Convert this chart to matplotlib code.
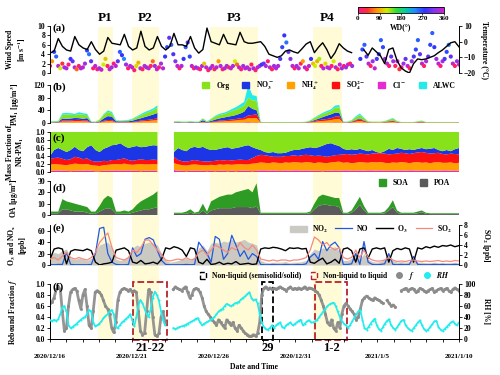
import numpy as np
import matplotlib.pyplot as plt
import matplotlib.transforms as mtrans
from matplotlib.colors import LinearSegmentedColormap
from matplotlib.patches import Patch, Rectangle
from matplotlib.lines import Line2D
from matplotlib.ticker import MultipleLocator, FormatStrFormatter

plt.rcParams['font.family'] = 'Liberation Serif'
plt.rcParams['font.weight'] = 'bold'
plt.rcParams['axes.labelweight'] = 'bold'
plt.rcParams['mathtext.fontset'] = 'stix'
plt.rcParams['mathtext.default'] = 'bf'
plt.rcParams['font.size'] = 5.5
plt.rcParams['axes.linewidth'] = 0.7

# ---- data (6 h steps, day 0 = 2020/12/16) ----
temp = [-7.3, -6, 2, -3, -5.3, -6, 3.3, -2, -4, -5, 0, -5, -8, -6, 2.7, -1,
        -1.5, -2, 4.7, -3, -5.3, -4, 6.7, -3, -5.3, -4, 3.3, -3, -5.3, -3, 5.3, -2,
        -2, -3, 3.3, -4, -7.3, -5, 8.7, 0, -1, -2, 4.7, -1, -1.5, -2, 6, 0,
        -1, -1, -0.5, 0, -3, -8, -9, -10, -9, -6, -5.3, -6.5, -7.3, -4.5, -1.5, 0,
        -7, -3.5, -0.7, -5, -10.7, -7, -1.3, -4, -6, -7, np.nan, np.nan, -5.3, -8.7, -4, -6.5,
        -9, -14, -5, -4, -12, -16.7, -18.7, -20, -14, -11, -11.5, -11, -10, -9, -7, -5.3,
        -3, -0.7, 0, -3.3]

# wind speed / direction (3 h steps)
ws = [1.5, 2.5, 4.5, 3.5, 1.5, 1.0, 2.0, 1.2, 1.0, 1.8, 3.0, 2.5, 1.2, 0.8, 1.5, 1.0,
      1.2, 2.0, 4.8, 4.0, 2.5, 1.0, 1.5, 0.8, 1.0, 0.7, 1.8, 3.0, 1.5, 0.8, 1.2, 2.0,
      1.5, 2.5, 4.5, 3.8, 3.0, 1.8, 1.0, 1.5, 1.2, 0.6, 1.5, 2.2, 1.0, 0.8, 1.5, 1.2,
      1.0, 1.5, 2.5, 1.5, 0.8, 1.2, 2.0, 1.0, 3.5, 5.5, 7.5, 6.0, 4.0, 2.5, 1.5, 1.0,
      1.5, 3.0, 5.5, 6.5, 3.5, 1.5, 1.0, 1.2, 1.0, 0.8, 1.5, 2.0, 1.2, 0.6, 1.0, 1.5,
      0.8, 1.2, 2.5, 1.5, 0.8, 1.0, 1.5, 1.2, 1.0, 1.5, 2.5, 1.8, 1.2, 0.8, 1.5, 1.0,
      1.2, 0.8, 1.8, 1.0, 0.6, 1.2, 1.5, 1.8, 2.0, 1.5, 2.5, 1.2, 0.8, 1.5, 1.0, 1.5,
      3.0, 5.5, 8.0, 6.5, 4.5, 3.0, 1.5, 1.0, 1.5, 1.0, 2.0, 2.5, 1.2, 0.8, 1.5, 3.0,
      2.0, 1.5, 2.5, 3.0, 1.5, 1.0, 2.0, 1.2, 1.0, 1.5, 2.5, 1.2, 0.8, 1.8, 1.0, 1.5,
      1.2, 1.8, 2.0, 1.5, np.nan, np.nan, np.nan, 3.0, 5.0, 6.0, 3.5, 2.0, 1.5, 2.5, 1.0, 3.0,
      4.0, 7.0, 5.5, 3.0, 2.0, 1.5, 3.5, 2.5, 1.5, 2.5, 0.8, 1.2, 2.0, 3.0, 1.5, 1.0,
      2.5, 3.5, 5.0, 7.0, 4.0, 2.0, 1.5, 2.5, 3.5, 6.0, 8.5, 5.5, 3.0, 2.0, 1.5, 2.5,
      3.0, 4.5, 6.0, 3.5, 2.0, 1.5, 2.5, 1.8]
wd = [20, 80, 270, 260, 350, 120, 40, 330, 340, 10, 280, 300, 350, 60, 20, 340,
      350, 330, 270, 250, 300, 20, 350, 10, 340, 350, 120, 100, 20, 350, 330, 10,
      350, 300, 260, 280, 240, 330, 20, 350, 350, 10, 110, 90, 340, 20, 350, 330,
      350, 20, 60, 330, 350, 10, 340, 350, 280, 270, 300, 260, 290, 320, 350, 10,
      340, 280, 260, 300, 270, 350, 20, 330, 350, 10, 340, 100, 350, 20, 330, 350,
      20, 350, 80, 340, 10, 350, 330, 30, 350, 340, 120, 60, 350, 10, 330, 350,
      340, 350, 20, 330, 10, 350, 340, 280, 300, 340, 10, 350, 20, 330, 350, 340,
      290, 270, 280, 250, 300, 320, 350, 20, 330, 350, 20, 80, 340, 10, 350, 280,
      100, 120, 90, 130, 20, 350, 110, 340, 350, 10, 120, 340, 20, 350, 330, 10,
      340, 350, 20, 330, 0, 0, 0, 280, 270, 260, 300, 350, 20, 330, 350, 290,
      280, 260, 270, 330, 350, 10, 300, 340, 20, 350, 40, 10, 330, 300, 350, 20,
      330, 290, 270, 260, 300, 350, 20, 340, 300, 270, 260, 280, 330, 350, 10, 340,
      290, 270, 250, 300, 350, 20, 330, 350]

# cumulative fraction boundaries of NR-PM1 (Cl, +NH4, +SO4, +NO3; Org fills to 1)
cl_top = [0.03, 0.03, 0.04, 0.03, 0.03, 0.02, 0.03, 0.03, 0.03, 0.04, 0.03, 0.02, 0.02, 0.03, 0.03, 0.03,
          0.04, 0.03, 0.03, 0.04, 0.03, 0.03, 0.02, 0.03, 0.03, 0.03, 0.03, np.nan, np.nan, np.nan, 0.05, 0.03,
          0.03, 0.02, 0.03, 0.03, 0.03, 0.03, 0.02, 0.03, 0.02, 0.03, 0.03, 0.02, 0.03, 0.02, 0.03, 0.03,
          0.03, 0.02, 0.03, 0.04, 0.04, 0.03, 0.04, 0.03, 0.03, 0.04, 0.03, 0.04, 0.04, 0.03, 0.04, 0.03,
          0.03, 0.03, 0.02, 0.03, 0.03, 0.04, 0.03, 0.04, 0.04, 0.03, 0.03, 0.04, 0.03, 0.04, 0.04, 0.03,
          0.04, 0.03, 0.03, 0.04, 0.03, 0.04, 0.03, 0.04, 0.04, 0.03, 0.04, 0.03, 0.03, 0.04, 0.03, 0.04,
          0.04, 0.03, 0.04, 0.03]
nh4_top = [0.18, 0.20, 0.19, 0.18, 0.17, 0.19, 0.21, 0.20, 0.19, 0.20, 0.17, 0.16, 0.15, 0.17, 0.18, 0.19,
           0.20, 0.19, 0.21, 0.19, 0.18, 0.19, 0.20, 0.19, 0.19, 0.20, 0.19, np.nan, np.nan, np.nan, 0.22, 0.19,
           0.17, 0.16, 0.18, 0.19, 0.18, 0.17, 0.17, 0.18, 0.17, 0.19, 0.18, 0.19, 0.18, 0.19, 0.20, 0.19,
           0.19, 0.21, 0.22, 0.24, 0.23, 0.22, 0.24, 0.23, 0.22, 0.24, 0.23, 0.25, 0.24, 0.23, 0.25, 0.24,
           0.22, 0.24, 0.23, 0.22, 0.24, 0.25, 0.26, 0.23, 0.24, 0.22, 0.23, 0.25, 0.24, 0.23, 0.25, 0.24,
           0.25, 0.23, 0.22, 0.24, 0.23, 0.25, 0.24, 0.22, 0.24, 0.25, 0.23, 0.24, 0.22, 0.24, 0.25, 0.23,
           0.23, 0.24, 0.22, 0.23]
so4_top = [0.32, 0.35, 0.36, 0.33, 0.30, 0.32, 0.38, 0.36, 0.32, 0.34, 0.28, 0.26, 0.26, 0.28, 0.27, 0.30,
           0.30, 0.32, 0.34, 0.30, 0.28, 0.30, 0.32, 0.30, 0.30, 0.31, 0.30, np.nan, np.nan, np.nan, 0.38, 0.30,
           0.27, 0.26, 0.28, 0.30, 0.28, 0.27, 0.26, 0.27, 0.28, 0.30, 0.29, 0.30, 0.29, 0.30, 0.31, 0.30,
           0.30, 0.35, 0.40, 0.43, 0.42, 0.40, 0.38, 0.38, 0.38, 0.40, 0.40, 0.42, 0.40, 0.42, 0.43, 0.42,
           0.40, 0.41, 0.40, 0.38, 0.40, 0.42, 0.43, 0.44, 0.45, 0.43, 0.44, 0.46, 0.45, 0.44, 0.46, 0.47,
           0.47, 0.46, 0.44, 0.45, 0.46, 0.48, 0.47, 0.45, 0.47, 0.49, 0.50, 0.48, 0.46, 0.47, 0.48, 0.45,
           0.44, 0.46, 0.45, 0.44]
no3_top = [0.40, 0.55, 0.60, 0.55, 0.50, 0.55, 0.63, 0.55, 0.52, 0.62, 0.67, 0.55, 0.50, 0.58, 0.62, 0.67,
           0.68, 0.72, 0.65, 0.60, 0.63, 0.65, 0.62, 0.63, 0.65, 0.67, 0.66, np.nan, np.nan, np.nan, 0.50, 0.60,
           0.55, 0.52, 0.60, 0.63, 0.60, 0.63, 0.58, 0.55, 0.55, 0.58, 0.60, 0.62, 0.58, 0.60, 0.62, 0.65,
           0.67, 0.62, 0.58, 0.55, 0.50, 0.48, 0.50, 0.47, 0.47, 0.48, 0.52, 0.55, 0.55, 0.58, 0.60, 0.62,
           0.60, 0.62, 0.66, 0.70, 0.72, 0.68, 0.65, 0.58, 0.55, 0.57, 0.55, 0.58, 0.55, 0.52, 0.55, 0.50,
           0.48, 0.52, 0.58, 0.55, 0.60, 0.58, 0.55, 0.57, 0.55, 0.58, 0.60, 0.57, 0.58, 0.60, 0.55, 0.52,
           0.55, 0.52, 0.57, 0.60]
nr_pm1 = [5, 5, 6, 26, 27, 26, 25, 28, 26, 25, 4, 4, 10, 25, 35, 30,
          8, 7, 8, 9, 12, 18, 24, 30, 35, 40, 48, np.nan, np.nan, np.nan, 5, 5,
          4, 4, 5, 4, 4, 14, 5, 12, 20, 25, 28, 32, 38, 42, 48, 55,
          80, 72, 70, 3, 3, 3, 3, 3, 3, 3, 3, 3, 3, 3, 4, 8,
          15, 22, 28, 33, 38, 48, 50, 4, 4, 8, 18, 25, 15, 5, 4, 4,
          4, 6, 10, 14, 6, 3, 3, 3, 3, 5, 7, 3, 3, 3, 3, 3,
          3, 3, 3, 3]
alwc = [1, 1, 1, 5, 5, 5, 4, 6, 5, 4, 1, 0.5, 1, 3, 5, 5,
        1, 1, 1, 1, 2, 3, 4, 5, 5, 6, 8, np.nan, np.nan, np.nan, 0.5, 0.5,
        0.5, 0.5, 0.8, 0.5, 0.5, 1, 0.5, 1.5, 3, 4, 4, 5, 6, 8, 10, 12,
        40, 16, 15, 0.5, 0.3, 0.3, 0.3, 0.3, 0.3, 0.3, 0.3, 0.3, 0.3, 0.3, 0.3, 0.5,
        2, 3, 4, 5, 5, 7, 7, 0.5, 0.5, 1, 3, 5, 2, 0.5, 0.3, 0.3,
        0.3, 0.5, 1, 2, 0.5, 0.3, 0.3, 0.3, 0.3, 0.5, 0.8, 0.3, 0.3, 0.3, 0.3, 0.3,
        0.3, 0.3, 0.3, 0.3]

soa = [1.5, 1.5, 1.5, 9, 7, 7, 7, 6, 5, 5, 2, 2, 5, 9, 11, 10,
       2, 2, 3, 2, 3, 6, 8, 9, 11, 12, 14, np.nan, np.nan, np.nan, 1, 1,
       1, 2, 3, 1, 2, 6, 2, 8, 9, 10, 11, 12, 12, 13, 14, 15,
       16, 14, 20, 1, 1, 1, 1, 1, 1, 1, 1, 1, 1, 1, 1, 1.5,
       5, 8, 9, 8, 8, 7, 8, 1, 1, 2, 5, 7, 4, 1, 1, 1,
       1, 1.5, 3, 6, 2, 1, 1, 1, 1, 1.5, 1.5, 1, 0.7, 0.7, 0.7, 0.7,
       0.7, 0.7, 0.7, 0.7]
poa = [1.5, 1.5, 1.5, 5, 5, 4, 3, 3, 3, 2, 1, 1, 3, 5, 6, 5,
       1, 1, 1, 1, 2, 3, 4, 5, 5, 6, 7, np.nan, np.nan, np.nan, 1, 1,
       1, 1, 2, 1, 1, 4, 1, 4, 5, 6, 6, 6, 6, 7, 7, 7,
       7, 6, 8, 1, 1, 1, 1, 1, 1, 1, 1, 1, 1, 1, 1, 1.5,
       5, 8, 9, 9, 8, 8, 7, 1, 1, 2, 5, 9, 4, 1, 1, 1,
       1, 1.5, 4, 7, 2, 1, 1, 1, 1, 1.5, 2.5, 1, 0.8, 0.8, 0.8, 0.8,
       0.8, 0.8, 0.8, 0.8]

o3 = [10, 28, 30, 28, 2, 24, 27, 26, 25, 28, 25, 5, 0, 2, 3, 5,
      26, 28, 30, 25, 5, 3, 8, 2, 3, 5, 2, 10, 30, 28, 32, 30,
      26, 15, 30, 28, 5, 2, 10, 1, 2, 5, 1, 3, 2, 6, 1, 2,
      3, 1, 2, 28, 30, 29, 31, 30, 28, 25, 30, 29, 30, 28, 29, 5,
      3, 8, 12, 2, 5, 10, 3, 28, 30, 25, 5, 28, 30, 12, 28, 30,
      28, 30, 5, 25, 29, 27, 30, 28, 5, 30, 28, 32, 30, 33, 31, 34,
      33, 35, 32, 34]
no = [1, 0.5, 1, 1, 22, 1, 0.5, 0.5, 0.5, 0.5, 1, 20, 64, 66, 20, 5,
      1, 0.5, 0.5, 1, 30, 15, 20, 45, 48, 44, 25, 8, 1, 0.5, 0.5, 0.5,
      0.5, 1, 0.5, 1, 40, 30, 20, 5, 50, 45, 10, 20, 52, 35, 15, 25,
      10, 20, 15, 1, 0.5, 0.5, 1, 0.5, 0.5, 1, 0.5, 0.5, 1, 0.5, 2, 14,
      20, 10, 41, 25, 35, 40, 30, 1, 1, 2, 20, 1, 41, 5, 1, 0.5,
      1, 2, 20, 1, 0.5, 1, 0.5, 1, 15, 1, 0.5, 0.5, 0.5, 1, 0.5, 1,
      0.5, 0.5, 1, 0.5]
no2 = [18, 22, 20, 25, 28, 12, 10, 12, 10, 8, 12, 25, 35, 38, 40, 30,
       10, 8, 10, 15, 30, 35, 32, 38, 40, 38, 35, 20, 8, 5, 6, 8,
       10, 12, 8, 15, 30, 35, 25, 38, 40, 38, 42, 40, 45, 40, 42, 45,
       40, 38, 35, 8, 5, 4, 5, 5, 5, 6, 4, 5, 5, 6, 8, 20,
       28, 25, 30, 28, 30, 32, 25, 8, 8, 12, 25, 10, 20, 10, 6, 5,
       6, 10, 18, 8, 5, 6, 5, 6, 12, 5, 5, 4, 4, 5, 4, 4,
       4, 4, 5, 4]
so2 = [1.2, 1.5, 1.0, 1.8, 2.5, 1.5, 1.2, 1.5, 1.2, 1.0, 1.5, 2.5, 4.5, 5.5, 6.4, 3.5,
       1.5, 1.2, 1.0, 1.5, 3.0, 2.5, 3.5, 5.0, 5.0, 4.0, 3.0, 2.0, 1.0, 0.8, 1.0, 1.2,
       1.0, 1.5, 1.0, 1.2, 2.5, 3.0, 2.0, 3.0, 4.0, 3.5, 3.0, 2.5, 3.5, 3.0, 4.5, 3.5,
       3.0, 4.0, 3.0, 1.2, 1.0, 0.8, 1.0, 0.8, 1.0, 1.0, 0.8, 1.0, 1.0, 1.2, 1.5, 3.0,
       5.6, 5.0, 4.0, 4.5, 3.5, 3.0, 3.5, 1.5, 1.2, 1.5, 3.0, 1.5, 3.0, 1.5, 1.0, 0.8,
       0.8, 1.0, 1.5, 1.0, 0.7, 0.8, 0.7, 0.9, 1.0, 0.8, 0.7, 0.8, 0.7, 0.8, 0.9, 0.7,
       0.8, 0.7, 0.9, 0.8]

# rebound fraction and RH (3 h steps)
f_reb = [0.65, 0.68, 0.75, 0.9, 0.95, 0.9, 0.5, 0.15, 0.2, 0.6, 0.85, 0.9, 0.92, 0.88, 0.7, 0.55,
         0.8, 0.9, 0.6, 0.25, 0.2, 0.5, 0.85, 0.88, 0.85, 0.8, 0.7, 0.6, 0.55, 0.45, 0.2, 0.12,
         0.3, 0.7, 0.85, 0.9, 0.92, 0.9, 0.88, 0.9, 0.85, 0.88, 0.85, 0.5, 0.15, 0.08, 0.1, 0.5,
         0.9, 0.85, 0.4, 0.08, 0.05, 0.1, 0.4, 0.5, 0.3, np.nan, np.nan, np.nan, 0.9, 0.95, 0.92, 0.9,
         0.88, 0.92, 0.95, 0.85, 0.75, 0.8, 0.9, 0.92, 0.9, 0.85, 0.75, 0.6, 0.5, 0.45, 0.4, 0.35,
         0.3, 0.25, 0.35, 0.3, 0.25, 0.2, 0.35, 0.3, 0.25, 0.3, 0.2, 0.15, 0.25, 0.2, 0.15, 0.1,
         0.08, 0.05, 0.05, 0.08, 0.05, 0.1, 0.3, 0.8, 0.92, 0.95, 0.9, 0.93, 0.9, 0.92, 0.9, 0.93,
         0.95, 0.92, 0.9, 0.88, 0.92, 0.95, 0.9, 0.92, 0.9, 0.93, 0.9, 0.92, 0.95, 0.9, 0.93, 0.92,
         0.9, 0.88, 0.85, 0.8, 0.7, 0.6, 0.45, 0.3, 0.25, 0.35, 0.2, 0.15, 0.3, 0.2, 0.45, 0.6,
         0.65, 0.6, 0.55, 0.5, 0.45, 0.35, 0.4, 0.55, 0.7, 0.75, 0.78, 0.75, 0.72, 0.7, 0.75, 0.72,
         0.7, 0.68, 0.65, np.nan, 0.7, 0.65, 0.6, 0.62, 0.58, np.nan, np.nan, 0.88, 0.9, 0.92, 0.88, 0.9,
         0.92, 0.9, 0.85, 0.88, 0.92, 0.9, 0.88, 0.85, 0.88, 0.9, 0.92, 0.85, 0.88, 0.9, 0.92, 0.88,
         0.9, 0.92, 0.88, 0.85, 0.9, 0.93, 0.9, 0.88]
rh = [34, 33, 35, 33, 36, 45, 58, 60, 50, 25, 20, 22, 25, 28, 32, 35,
      38, 40, 45, 53, 50, 30, 23, 25, 28, 32, 38, 42, 45, 50, 53, 45,
      22, 20, 25, 30, 33, 37, 40, 45, 35, 23, 40, 60, 71, 65, 55, 45,
      40, 55, 75, 86, 80, 70, 50, 35, 25, np.nan, np.nan, np.nan, 20, 18, 20, 22,
      23, 24, 26, 28, 30, 32, 34, 37, 38, 30, 25, 28, 30, 32, 35, 37,
      40, 45, 50, 53, 55, 60, 64, 62, 60, 62, 65, 66, 68, 72, 75, 78,
      82, 85, 75, 70, 72, 65, 45, 30, 22, 18, 17, 20, 25, 20, 25, 28,
      30, 22, 20, 25, 28, 30, 25, 27, 30, 33, 35, 25, 28, 32, 34, 30,
      30, 32, 35, 40, 45, 50, 55, 60, 63, 65, 66, 60, 50, 40, 32, 28,
      25, 20, 25, 32, 38, 45, 50, 53, 35, 20, 17, 22, 28, 33, 37, 25,
      18, 15, 22, 28, 33, 36, 25, 20, 17, 22, 28, 33, 35, 25, 20, 17,
      15, 20, 25, 30, 34, 25, 18, 15, 17, 22, 27, 32, 33, 22, 17, 15,
      18, 22, 26, 30, 32, 28, 25, 30]

periods = [(2.93, 3.85), (5.01, 6.66), (9.78, 12.7), (16.08, 17.85)]
period_names = ['P1', 'P2', 'P3', 'P4']
box_spans = [(5.07, 7.15), (12.96, 13.63), (16.2, 18.15)]
box_names = ['21-22', '29', '1-2']
box_colors = ['#b8232a', 'black', '#b8232a']
date_ticks = [0, 5, 10, 15, 20, 25]
date_labels = ['2020/12/16', '2020/12/21', '2020/12/26', '2020/12/31', '2021/1/5', '2021/1/10']

c_org, c_no3, c_nh4, c_so4, c_cl, c_alwc = '#88e21b', '#1c36e6', '#ffa200', '#ff1010', '#e82ad0', '#25eaea'

t6 = np.linspace(0, 25, len(temp))
t3 = np.linspace(0, 25, len(ws))
nr = np.array(nr_pm1, float)
fr_cl = np.array(cl_top)
fr_nh4 = np.array(nh4_top) - fr_cl
fr_so4 = np.array(so4_top) - np.array(nh4_top)
fr_no3 = np.array(no3_top) - np.array(so4_top)
fr_org = 1 - np.array(no3_top)

wd_cmap = LinearSegmentedColormap.from_list('wd', ['#ff1493', '#ff3030', '#ff9900', '#ccee00', '#33dd33',
                                                   '#00ccaa', '#2288ff', '#3333ff', '#8833ee', '#cc22cc'])

fig = plt.figure(figsize=(5, 3.75), dpi=100)
L, W = 0.1, 0.818

bg = fig.add_axes([L, 0.096, W, 0.832])
bg.set_xlim(0, 25)
bg.axis('off')
for (s, e) in periods:
    bg.axvspan(s, e, color='#fffbd6', lw=0)
tr = mtrans.blended_transform_factory(bg.transData, fig.transFigure)
for (s, e), name in zip(periods, period_names):
    fig.text((s + e) / 2, 0.953, name, transform=tr, ha='center', va='center', fontsize=9.5)


def clean(ax, left=True, right=False, bottom=False):
    ax.set_facecolor('none')
    for side, vis in zip(['left', 'right', 'bottom', 'top'], [left, right, bottom, False]):
        ax.spines[side].set_visible(vis)
    ax.tick_params(direction='out', length=2, width=0.6, pad=1.5, labelsize=5.5)
    if not bottom:
        ax.tick_params(bottom=False, labelbottom=False)
    ax.set_xlim(0, 25)


def letter(ax, s, y):
    ax.text(0.006, y, s, transform=ax.transAxes, fontsize=8, va='center', ha='left')


def left_label(ax, s, x):
    ax.set_ylabel(s, fontsize=5.5, linespacing=1.1)
    ax.yaxis.set_label_coords(x, 0.5)


# (a) wind speed / temperature
ax_a = fig.add_axes([L, 0.8053, W, 0.1253])
clean(ax_a)
sc = ax_a.scatter(t3, ws, c=wd, cmap=wd_cmap, vmin=0, vmax=360, s=9, linewidths=0)
ax_a.set_ylim(0, 10)
ax_a.set_yticks([0, 2, 4, 6, 8, 10])
left_label(ax_a, 'Wind Speed\n[m s$^{-1}$]', -0.055)
letter(ax_a, '(a)', 0.95)
ax_a2 = ax_a.twinx()
clean(ax_a2, left=False, right=True)
ax_a2.plot(t6, temp, color='black', lw=1.0)
ax_a2.set_ylim(-20, 10)
ax_a2.set_yticks([-20, -10, 0, 10])
ax_a2.set_ylabel('Temperature (°C)', rotation=270, fontsize=5.5)
ax_a2.yaxis.set_label_coords(1.072, 0.5)

cax = fig.add_axes([0.716, 0.9653, 0.172, 0.016])
cb = fig.colorbar(sc, cax=cax, orientation='horizontal', ticks=[0, 90, 180, 270, 360])
cb.outline.set_linewidth(0.6)
cax.tick_params(labelsize=5, length=1.5, width=0.5, pad=1)
cb.set_label('WD(°)', fontsize=5.5, labelpad=1.5)

# (b) PM1 composition
ax_b = fig.add_axes([L, 0.672, W, 0.1013])
clean(ax_b)
ax_b.stackplot(t6, nr * fr_cl, nr * fr_nh4, nr * fr_so4, nr * fr_no3, nr * fr_org, alwc,
               colors=[c_cl, c_nh4, c_so4, c_no3, c_org, c_alwc], lw=0)
ax_b.set_ylim(0, 120)
ax_b.set_yticks([0, 40, 80, 120])
left_label(ax_b, 'PM$_1$ [μg/m$^3$]', -0.068)
letter(ax_b, '(b)', 0.93)
hb = [Patch(color=c) for c in [c_org, c_no3, c_nh4, c_so4, c_cl, c_alwc]]
ax_b.legend(hb, ['Org', 'NO$_3^-$', 'NH$_4^+$', 'SO$_4^{2-}$', 'Cl$^-$', 'ALWC'], ncol=6, frameon=False,
            loc='center right', bbox_to_anchor=(1.0, 1.0), fontsize=5.5, handlelength=0.9,
            handleheight=0.9, handletextpad=0.9, columnspacing=1.7, borderaxespad=0)

# (c) mass fractions
ax_c = fig.add_axes([L, 0.5413, W, 0.1067])
clean(ax_c)
ax_c.stackplot(t6, fr_cl, fr_nh4, fr_so4, fr_no3, fr_org,
               colors=[c_cl, c_nh4, c_so4, c_no3, c_org], lw=0)
ax_c.set_ylim(0, 1)
ax_c.set_yticks([0, 0.2, 0.4, 0.6, 0.8, 1.0])
ax_c.yaxis.set_major_formatter(FormatStrFormatter('%.1f'))
left_label(ax_c, 'Mass Fraction of\nNR-PM$_1$', -0.058)
letter(ax_c, '(c)', 0.84)

# (d) OA
ax_d = fig.add_axes([L, 0.4267, W, 0.0907])
clean(ax_d)
ax_d.stackplot(t6, poa, soa, colors=['#5a5a5a', '#2e9b24'], lw=0)
ax_d.set_ylim(0, 30)
ax_d.set_yticks([0, 10, 20, 30])
left_label(ax_d, 'OA [μg/m$^3$]', -0.07)
letter(ax_d, '(d)', 0.8)
ax_d.legend([Patch(color='#2e9b24'), Patch(color='#5a5a5a')], ['SOA', 'POA'], ncol=2, frameon=False,
            loc='center right', bbox_to_anchor=(0.985, 0.94), fontsize=5.5, handlelength=0.9,
            handleheight=0.9, handletextpad=0.9, columnspacing=1.5, borderaxespad=0)

# (e) gases
ax_e = fig.add_axes([L, 0.2933, W, 0.1067])
clean(ax_e)
ax_e.fill_between(t6, 0, no2, color='#cbcac2', lw=0)
ax_e.plot(t6, no, color='#2158e0', lw=0.9)
ax_e.plot(t6, o3, color='black', lw=1.0)
ax_e.set_ylim(0, 70)
ax_e.set_yticks([0, 20, 40, 60])
left_label(ax_e, 'O$_3$ and NO$_x$\n[ppb]', -0.058)
letter(ax_e, '(e)', 0.92)
ax_e2 = ax_e.twinx()
clean(ax_e2, left=False, right=True)
ax_e2.plot(t6, so2, color='#f58a7c', lw=0.9)
ax_e2.set_ylim(0, 8)
ax_e2.set_yticks([0, 2, 4, 6, 8])
ax_e2.set_ylabel('SO$_2$ [ppb]', rotation=270, fontsize=5.5)
ax_e2.yaxis.set_label_coords(1.08, 0.5)
he = [Patch(color='#cbcac2'), Line2D([], [], color='#2158e0', lw=0.9), Line2D([], [], color='black', lw=1),
      Line2D([], [], color='#f58a7c', lw=0.9)]
ax_e2.legend(he, ['NO$_2$', 'NO', 'O$_3$', 'SO$_2$'], ncol=4, frameon=False, loc='center right',
             bbox_to_anchor=(0.99, 0.9), fontsize=5.5, handlelength=2.2, handleheight=0.9,
             handletextpad=0.6, columnspacing=1.0, borderaxespad=0)

# (f) rebound fraction / RH
ax_f = fig.add_axes([L, 0.096, W, 0.1467])
clean(ax_f, bottom=True)
ax_f.plot(t3, f_reb, color='#8a8a8a', lw=2.0, marker='o', ms=2.2, mew=0, alpha=0.9)
ax_f.set_ylim(0, 1)
ax_f.set_yticks([0, 0.2, 0.4, 0.6, 0.8, 1.0])
ax_f.yaxis.set_major_formatter(FormatStrFormatter('%.1f'))
left_label(ax_f, 'Rebound Fraction $\\mathit{f}$', -0.075)
ax_f.set_xticks(date_ticks)
ax_f.set_xticklabels(date_labels, fontsize=5)
ax_f.xaxis.set_minor_locator(MultipleLocator(1))
ax_f.tick_params(axis='x', which='both', direction='out', length=2, width=0.6, pad=9)
ax_f.set_xlabel('Date and Time', fontsize=5.5, labelpad=2.5)
letter(ax_f, '(f)', 0.95)
for (s, e), name, col in zip(box_spans, box_names, box_colors):
    ax_f.add_patch(Rectangle((s, -0.02), e - s, 1.06, fill=False, ls='--', lw=1.3, ec=col, clip_on=False))
    ax_f.text((s + e) / 2, -0.17, name, ha='center', va='center', fontsize=9)
ax_f2 = ax_f.twinx()
clean(ax_f2, left=False, right=True, bottom=False)
ax_f2.plot(t3, rh, color='#22ecec', lw=1.2, marker='o', ms=1.4, mew=0)
ax_f2.set_ylim(0, 100)
ax_f2.set_yticks([0, 20, 40, 60, 80, 100])
ax_f2.set_ylabel('RH [%]', rotation=270, fontsize=5.5)
ax_f2.yaxis.set_label_coords(1.075, 0.5)
hf = [Patch(fc='none', ec='black', ls='--', lw=1), Patch(fc='none', ec='#b8232a', ls='--', lw=1),
      Line2D([], [], ls='none', marker='o', color='#8a8a8a', ms=4),
      Line2D([], [], ls='none', marker='o', color='#22ecec', ms=4)]
ax_f2.legend(hf, ['Non-liquid (semisolid/solid)', 'Non-liquid to liquid', '$\\mathit{f}$', '$\\mathit{RH}$'],
             ncol=4, frameon=False, loc='center right', bbox_to_anchor=(0.985, 1.145), fontsize=5.5,
             handlelength=0.8, handleheight=0.9, handletextpad=0.8, columnspacing=1.2, borderaxespad=0)

fig.savefig('out.png', dpi=100)
